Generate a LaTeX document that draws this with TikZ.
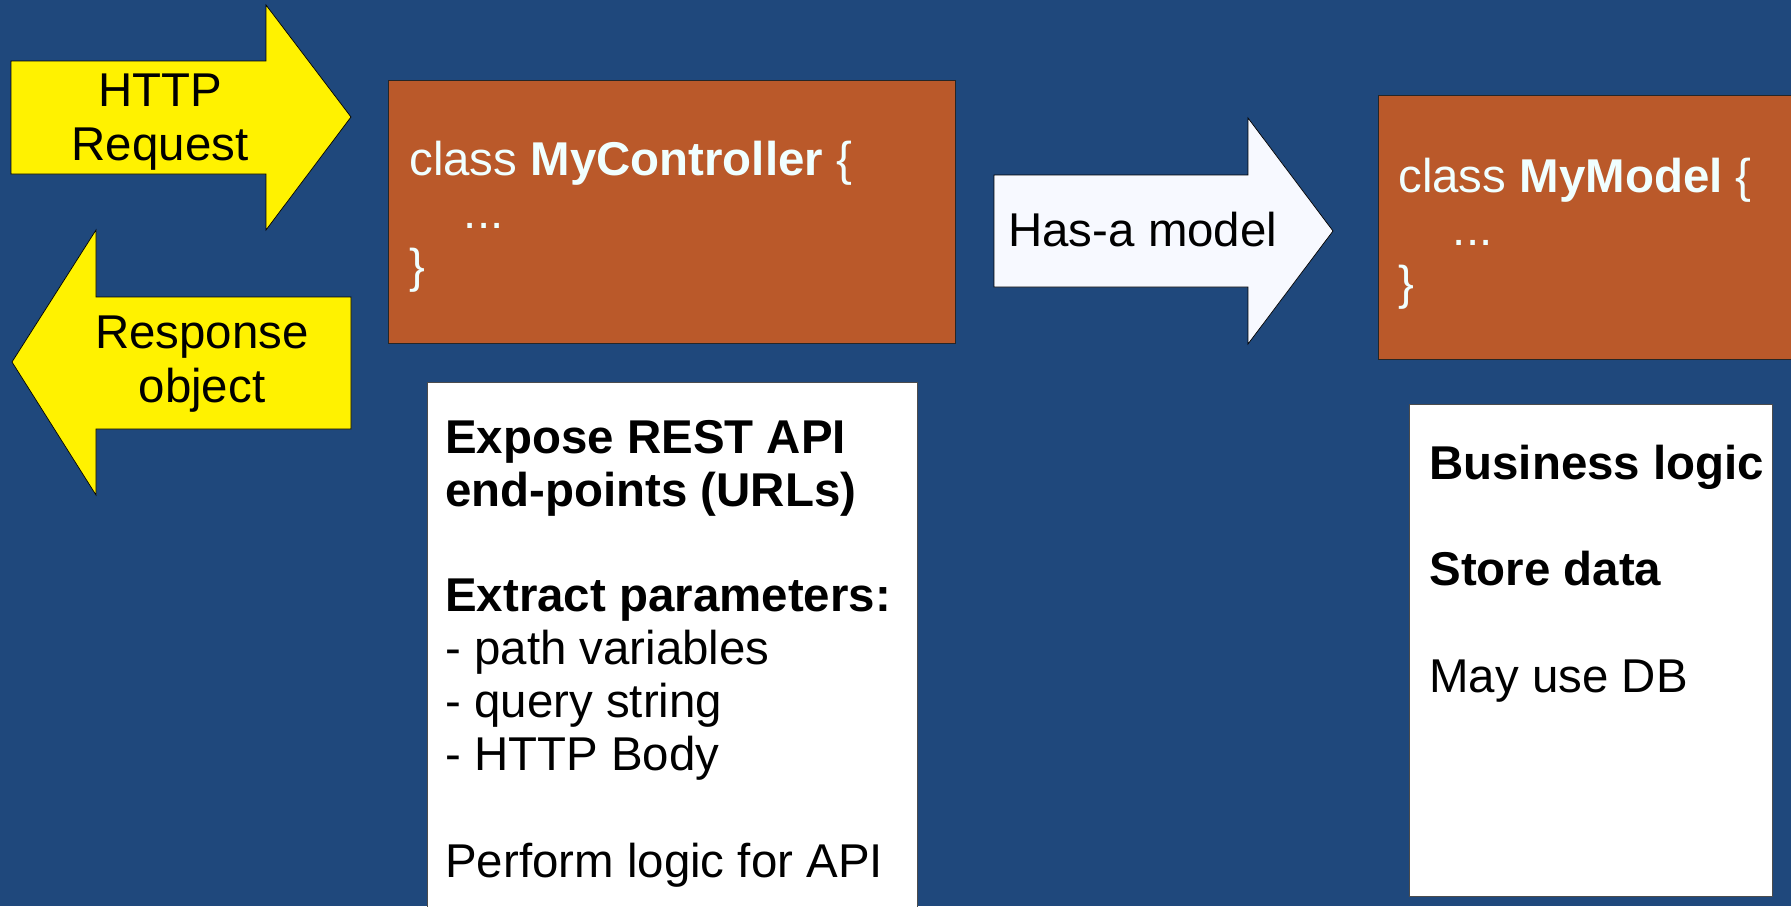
\documentclass[tikz,border=0pt]{standalone}
\usepackage{fontspec}
\setmainfont{Liberation Sans}
\usepackage{xcolor}
\usepackage{tikz}
\usetikzlibrary{positioning}
\definecolor{slideBlue}{RGB}{31, 72, 124}
\definecolor{classOrange}{RGB}{186, 89, 42}
\definecolor{codeWhite}{RGB}{240, 255, 255}
\definecolor{hasaWhite}{RGB}{247, 249, 255}

\tikzset{
    blockarrow/.style={draw=black, line width=0.4pt, line join=miter},
    classbox/.style={draw=black!85, fill=classOrange, line width=0.5pt},
    notebox/.style={draw=black!70, fill=white, line width=0.5pt},
    slidetext/.style={font=\fontsize{27}{30.2}\selectfont, inner sep=0pt, align=left}
}

\begin{document}
\begin{tikzpicture}[x=0.02cm, y=-0.02cm]
            \useasboundingbox (0,0) rectangle (1791,906);
            \clip (0,0) rectangle (1791,906);
            \fill[slideBlue] (0,0) rectangle (1791,906);

            % request in, response out (text anchored on its last line)
            \draw[blockarrow, fill=yellow] (11,61) -- (266,61) -- (266,5) -- (351,117)
                -- (266,230) -- (266,174) -- (11,174) -- cycle;
            \draw[blockarrow, fill=yellow] (351,297) -- (96,297) -- (96,230) -- (12,362)
                -- (96,495) -- (96,429) -- (351,429) -- cycle;
            \node[slidetext, align=center, anchor=base] (req) at (160,160) {HTTP\\Request};
            \node[slidetext, align=center, anchor=base] (resp) at (202,402) {Response\\object};

            % controller class and its duties
            \coordinate (C1) at (388,80);  % top left
            \coordinate (C2) at (955,343); % bottom right
            \draw[classbox] (C1) rectangle (C2);
            \node[slidetext, text=codeWhite, anchor=base west] (ctrl) at (409,282)
                {class \textbf{MyController} \{\\\hspace*{1.15em}...\\\}};
            \draw[notebox] (427,382) rectangle (917,920);
            \node[slidetext, anchor=base west] (ctrlnote) at (445,877)
                {\textbf{Expose REST API}\\\textbf{end-points (URLs)}\\[29.5pt]
                 \textbf{Extract parameters:}\\- path variables\\- query string\\- HTTP Body\\[30.2pt]
                 Perform logic for API};

            % has-a link to the model
            \draw[blockarrow, fill=hasaWhite] (994,175) -- (1248,175) -- (1248,118) -- (1333,231)
                -- (1248,344) -- (1248,287) -- (994,287) -- cycle;
            \node[slidetext, anchor=base west] (hasa) at (1008,246) {Has-a model};

            % model class and its duties
            \coordinate (M1) at (1378,95);
            \coordinate (M2) at (1800,359);
            \draw[classbox] (M1) rectangle (M2);
            \node[slidetext, text=codeWhite, anchor=base west] (model) at (1398,299)
                {class \textbf{MyModel} \{\\\hspace*{1.15em}...\\\}};
            \draw[notebox] (1409,404) rectangle (1772,896);
            \node[slidetext, anchor=base west] (modelnote) at (1429,692)
                {\textbf{Business logic}\\[30.2pt]\textbf{Store data}\\[30.2pt]May use DB};
\end{tikzpicture}
\end{document}
